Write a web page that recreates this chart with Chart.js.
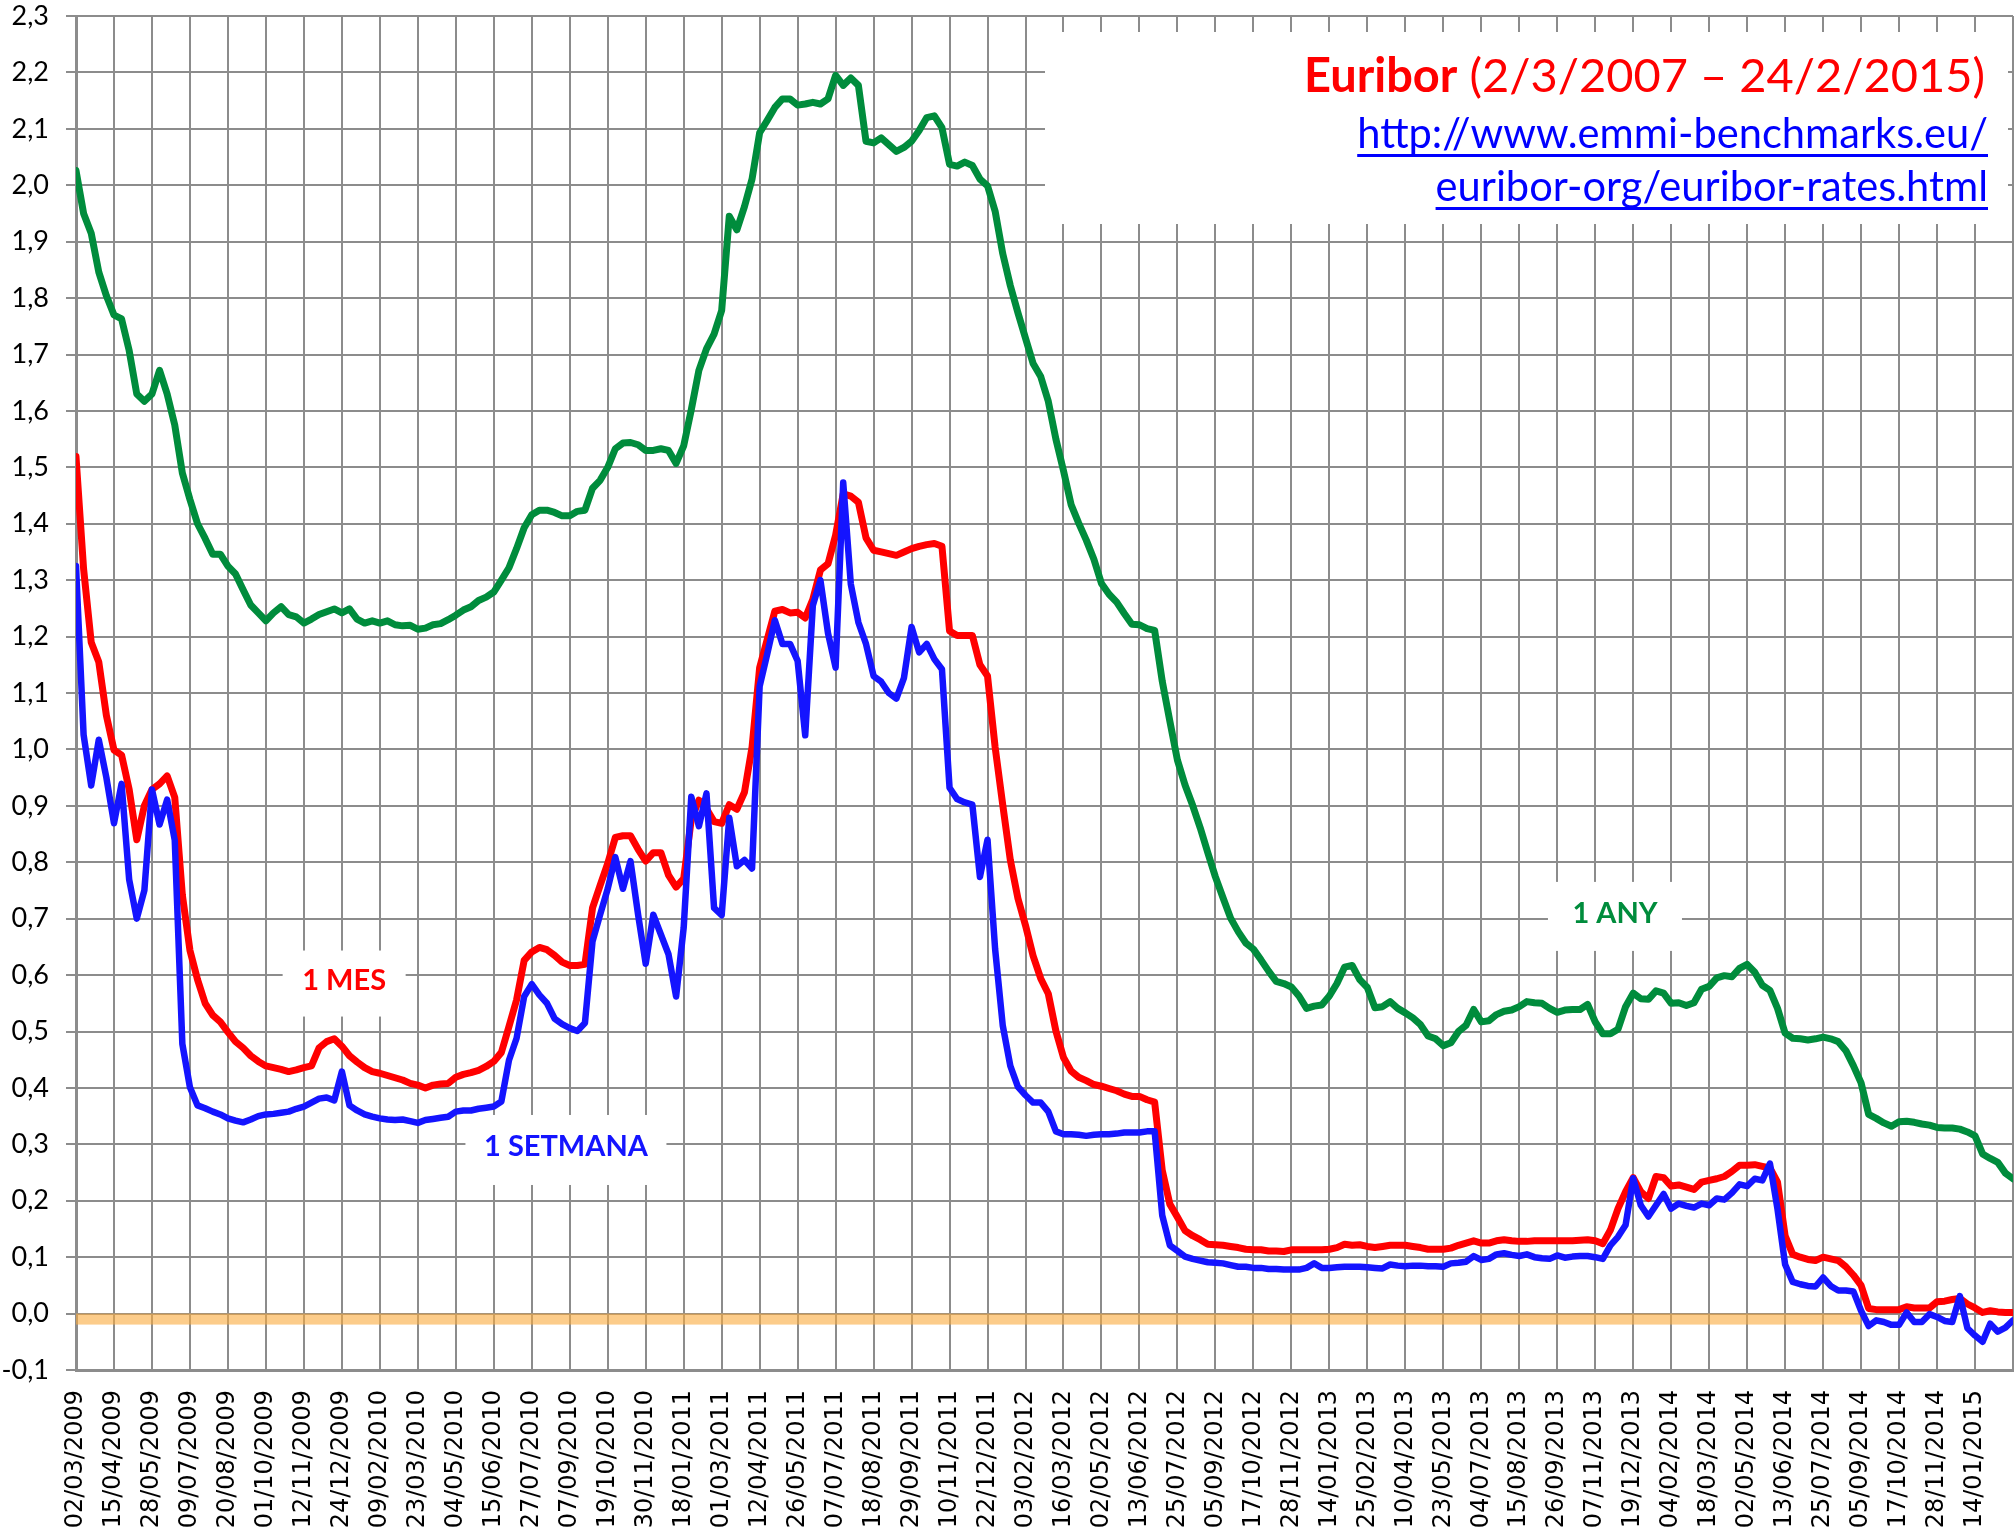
<!DOCTYPE html>
<html>
<head>
<meta charset="utf-8">
<script src="https://cdn.jsdelivr.net/npm/chart.js@4.4.1/dist/chart.umd.min.js"></script>
<style>
  html, body { margin: 0; padding: 0; background: #fff; }
  #euribor { display: block; }
</style>
</head>
<body>
<canvas id="euribor" width="2015" height="1538"></canvas>
<script>
// one sample every 6 business days, 5 samples between two date ticks
const tickLabels = [
  "02/03/2009", "15/04/2009", "28/05/2009", "09/07/2009", "20/08/2009", "01/10/2009",
  "12/11/2009", "24/12/2009", "09/02/2010", "23/03/2010", "04/05/2010", "15/06/2010",
  "27/07/2010", "07/09/2010", "19/10/2010", "30/11/2010", "18/01/2011", "01/03/2011",
  "12/04/2011", "26/05/2011", "07/07/2011", "18/08/2011", "29/09/2011", "10/11/2011",
  "22/12/2011", "03/02/2012", "16/03/2012", "02/05/2012", "13/06/2012", "25/07/2012",
  "05/09/2012", "17/10/2012", "28/11/2012", "14/01/2013", "25/02/2013", "10/04/2013",
  "23/05/2013", "04/07/2013", "15/08/2013", "26/09/2013", "07/11/2013", "19/12/2013",
  "04/02/2014", "18/03/2014", "02/05/2014", "13/06/2014", "25/07/2014", "05/09/2014",
  "17/10/2014", "28/11/2014", "14/01/2015"
];
const samplesPerTick = 5;

// 1 SETMANA
const week1 = [
  1.325, 1.026, 0.936, 1.017, 0.95, 0.869, 0.939, 0.769, 0.70, 0.75, 0.929, 0.867, 0.911, 0.839, 0.478,
  0.401, 0.369, 0.364, 0.358, 0.353, 0.346, 0.342, 0.339, 0.344, 0.35, 0.353, 0.354, 0.356, 0.358, 0.363,
  0.367, 0.374, 0.381, 0.383, 0.378, 0.429, 0.369, 0.36, 0.353, 0.349, 0.346, 0.344, 0.343,
  0.344, 0.341, 0.338, 0.343, 0.345, 0.347, 0.349, 0.358, 0.36, 0.36, 0.363, 0.365, 0.367, 0.376, 0.449,
  0.488, 0.562, 0.584, 0.565, 0.55, 0.523, 0.513, 0.506, 0.501, 0.515, 0.66, 0.707, 0.753, 0.809, 0.753,
  0.802, 0.707, 0.62, 0.707, 0.672, 0.637, 0.562, 0.684, 0.916, 0.864, 0.922, 0.719,
  0.706, 0.879, 0.793, 0.804, 0.789, 1.112, 1.169, 1.229, 1.187, 1.187, 1.157, 1.025, 1.255, 1.30, 1.206,
  1.145, 1.473, 1.293, 1.225, 1.187, 1.13, 1.12, 1.10, 1.09, 1.127, 1.217, 1.172, 1.187, 1.16, 1.142,
  0.932, 0.912, 0.906, 0.902, 0.774, 0.84, 0.646, 0.511, 0.439, 0.402, 0.387, 0.374,
  0.374, 0.358, 0.323, 0.318, 0.318, 0.317, 0.315, 0.317, 0.318, 0.318, 0.319, 0.321, 0.321, 0.321, 0.323,
  0.323, 0.174, 0.121, 0.111, 0.101, 0.097, 0.094, 0.091, 0.09, 0.089, 0.086, 0.083, 0.083, 0.081, 0.081,
  0.079, 0.079, 0.078, 0.078, 0.078, 0.081, 0.089, 0.081, 0.081, 0.082, 0.083, 0.083,
  0.083, 0.082, 0.081, 0.08, 0.087, 0.085, 0.084, 0.085, 0.085, 0.084, 0.084, 0.083, 0.089, 0.09, 0.092,
  0.102, 0.095, 0.097, 0.105, 0.107, 0.104, 0.102, 0.105, 0.1, 0.098, 0.097, 0.103, 0.099, 0.101, 0.102,
  0.102, 0.1, 0.097, 0.121, 0.136, 0.157, 0.24, 0.192, 0.172, 0.192, 0.212, 0.186,
  0.195, 0.191, 0.188, 0.195, 0.192, 0.204, 0.202, 0.214, 0.229, 0.226, 0.239, 0.236, 0.266, 0.185, 0.087,
  0.056, 0.052, 0.049, 0.048, 0.064, 0.049, 0.041, 0.041, 0.039, 0.005, -0.022, -0.012, -0.015, -0.02, -0.02,
  0.002, -0.015, -0.015, -0.001, -0.006, -0.013, -0.015, 0.031, -0.026, -0.039, -0.05, -0.018, -0.032, -0.025, -0.012
];

// 1 MES
const month1 = [
  1.519, 1.32, 1.19, 1.155, 1.06, 0.999, 0.99, 0.929, 0.84, 0.90, 0.929, 0.939, 0.953, 0.915, 0.742,
  0.644, 0.592, 0.55, 0.529, 0.517, 0.499, 0.482, 0.471, 0.457, 0.447, 0.439, 0.436, 0.433, 0.429, 0.432,
  0.436, 0.439, 0.471, 0.482, 0.487, 0.474, 0.457, 0.446, 0.436, 0.429, 0.426, 0.422, 0.418,
  0.414, 0.408, 0.405, 0.40, 0.405, 0.407, 0.408, 0.419, 0.424, 0.427, 0.431, 0.438, 0.447, 0.463, 0.509,
  0.556, 0.626, 0.641, 0.649, 0.645, 0.635, 0.623, 0.617, 0.617, 0.619, 0.719, 0.759, 0.798, 0.844, 0.847,
  0.847, 0.823, 0.802, 0.817, 0.817, 0.777, 0.756, 0.771, 0.876, 0.91, 0.895, 0.872,
  0.869, 0.902, 0.894, 0.924, 1.004, 1.145, 1.195, 1.245, 1.248, 1.242, 1.243, 1.233, 1.266, 1.318, 1.329,
  1.38, 1.453, 1.449, 1.438, 1.375, 1.353, 1.35, 1.347, 1.344, 1.35, 1.356, 1.36, 1.363, 1.365, 1.36,
  1.21, 1.202, 1.202, 1.202, 1.15, 1.13, 1.004, 0.902, 0.804, 0.736, 0.688, 0.634,
  0.594, 0.567, 0.501, 0.454, 0.43, 0.419, 0.413, 0.406, 0.403, 0.399, 0.395, 0.389, 0.385, 0.385, 0.379,
  0.375, 0.254, 0.194, 0.171, 0.147, 0.138, 0.131, 0.123, 0.122, 0.121, 0.119, 0.117, 0.114, 0.113, 0.113,
  0.111, 0.111, 0.11, 0.113, 0.113, 0.113, 0.113, 0.113, 0.114, 0.117, 0.123, 0.121,
  0.122, 0.119, 0.117, 0.119, 0.121, 0.121, 0.121, 0.119, 0.117, 0.114, 0.114, 0.114, 0.116, 0.121, 0.125,
  0.129, 0.125, 0.125, 0.129, 0.131, 0.129, 0.128, 0.128, 0.129, 0.129, 0.129, 0.129, 0.129, 0.129, 0.13,
  0.131, 0.129, 0.124, 0.148, 0.186, 0.216, 0.241, 0.216, 0.204, 0.243, 0.241, 0.226,
  0.228, 0.224, 0.22, 0.233, 0.236, 0.239, 0.243, 0.252, 0.263, 0.263, 0.264, 0.261, 0.258, 0.233, 0.138,
  0.105, 0.10, 0.096, 0.094, 0.10, 0.097, 0.094, 0.083, 0.068, 0.05, 0.009, 0.007, 0.007, 0.007, 0.007,
  0.012, 0.01, 0.01, 0.01, 0.021, 0.022, 0.025, 0.027, 0.017, 0.01, 0.002, 0.005, 0.003, 0.002, 0.002
];

// 1 ANY
const year1 = [
  2.026, 1.95, 1.915, 1.846, 1.804, 1.77, 1.763, 1.707, 1.63, 1.617, 1.63, 1.672, 1.63, 1.575, 1.49,
  1.443, 1.40, 1.374, 1.346, 1.346, 1.325, 1.311, 1.283, 1.256, 1.242, 1.228, 1.242, 1.253, 1.239, 1.235,
  1.224, 1.231, 1.239, 1.244, 1.249, 1.242, 1.249, 1.231, 1.224, 1.228, 1.224, 1.228, 1.221,
  1.219, 1.22, 1.213, 1.215, 1.221, 1.223, 1.23, 1.238, 1.247, 1.253, 1.264, 1.27, 1.279, 1.30, 1.322,
  1.356, 1.393, 1.416, 1.424, 1.424, 1.42, 1.414, 1.414, 1.422, 1.424, 1.463, 1.477, 1.50, 1.533, 1.543,
  1.544, 1.54, 1.53, 1.53, 1.533, 1.53, 1.507, 1.538, 1.602, 1.672, 1.71, 1.736,
  1.778, 1.945, 1.921, 1.962, 2.011, 2.093, 2.115, 2.138, 2.153, 2.153, 2.142, 2.144, 2.147, 2.144, 2.153,
  2.195, 2.177, 2.19, 2.177, 2.078, 2.075, 2.084, 2.072, 2.06, 2.067, 2.078, 2.097, 2.12, 2.123, 2.102,
  2.037, 2.034, 2.041, 2.035, 2.011, 1.999, 1.954, 1.879, 1.822, 1.774, 1.729, 1.684,
  1.661, 1.617, 1.55, 1.494, 1.434, 1.401, 1.371, 1.337, 1.294, 1.275, 1.261, 1.241, 1.222, 1.221, 1.214,
  1.211, 1.121, 1.05, 0.981, 0.937, 0.901, 0.861, 0.817, 0.774, 0.737, 0.701, 0.677, 0.657, 0.646, 0.627,
  0.607, 0.589, 0.585, 0.579, 0.563, 0.541, 0.545, 0.547, 0.563, 0.585, 0.614, 0.617,
  0.592, 0.578, 0.542, 0.544, 0.553, 0.541, 0.533, 0.524, 0.512, 0.492, 0.487, 0.475, 0.48, 0.50, 0.511,
  0.539, 0.517, 0.519, 0.53, 0.536, 0.538, 0.544, 0.553, 0.551, 0.55, 0.541, 0.534, 0.538, 0.539, 0.539,
  0.548, 0.517, 0.496, 0.496, 0.504, 0.544, 0.568, 0.558, 0.557, 0.572, 0.568, 0.55,
  0.551, 0.546, 0.551, 0.575, 0.58, 0.595, 0.599, 0.597, 0.612, 0.619, 0.605, 0.582, 0.573, 0.541, 0.497,
  0.488, 0.487, 0.485, 0.487, 0.49, 0.487, 0.482, 0.466, 0.439, 0.409, 0.353, 0.346, 0.338, 0.332, 0.34,
  0.341, 0.339, 0.336, 0.334, 0.33, 0.329, 0.329, 0.327, 0.322, 0.315, 0.283, 0.275, 0.268, 0.249, 0.239
];

const toPoints = (arr) => arr.map((v, i) => ({ x: i, y: v }));

// callouts, placed on the value scales
const notes = [
  { text: "1 MES", color: "#ff0000", at: 35.3, level: 0.585, w: 123, h: 66 },
  { text: "1 SETMANA", color: "#1414ff", at: 64.5, level: 0.29, w: 201, h: 70 },
  { text: "1 ANY", color: "#008c3c", at: 202.6, level: 0.704, w: 134, h: 69 },
];
const zeroBandEnd = 235; // orange band under 0 stops at 05/09/2014

const decor = {
  id: "decor",
  beforeDatasetsDraw(chart) {
    const { ctx, scales: { x, y } } = chart;
    ctx.save();
    // orange band just under zero
    ctx.fillStyle = "rgba(250,170,60,0.6)";
    const y0 = y.getPixelForValue(0);
    ctx.fillRect(x.getPixelForValue(0), y0, x.getPixelForValue(zeroBandEnd) - x.getPixelForValue(0), 11);

    // white panel behind the title
    ctx.fillStyle = "#fff";
    ctx.fillRect(1045, 32, 963, 192);

    // callout boxes
    notes.forEach((n) => {
      const cx = x.getPixelForValue(n.at);
      const cy = y.getPixelForValue(n.level);
      ctx.fillStyle = "#fff";
      ctx.fillRect(cx - n.w / 2, cy - n.h / 2, n.w, n.h);
      ctx.fillStyle = n.color;
      ctx.font = "bold 29px Lato";
      ctx.textAlign = "center";
      ctx.textBaseline = "middle";
      ctx.fillText(n.text, cx, cy - 3);
    });

    // title
    const bold = "Euribor";
    const rest = " (2/3/2007 \u2013 24/2/2015)";
    ctx.font = "bold 100px Lato";
    const wb = ctx.measureText(bold).width;
    ctx.font = "100px Lato";
    const wr = ctx.measureText(rest).width;
    const size = (100 * 681) / (wb + wr);
    ctx.textBaseline = "alphabetic";
    ctx.textAlign = "right";
    ctx.fillStyle = "#ff0000";
    ctx.font = size + "px Lato";
    ctx.fillText(rest, 1985, 92);
    ctx.font = "bold " + size + "px Lato";
    ctx.fillText(bold, 1985 - (wr * size) / 100, 92);

    // source links
    const link1 = "http://www.emmi-benchmarks.eu/";
    const link2 = "euribor-org/euribor-rates.html";
    ctx.font = "100px Lato";
    const ls = (100 * 631) / ctx.measureText(link1).width;
    ctx.font = ls + "px Lato";
    ctx.fillStyle = "#0000ff";
    [[link1, 148], [link2, 201]].forEach(([t, base]) => {
      const w = ctx.measureText(t).width;
      ctx.fillText(t, 1988, base);
      ctx.fillRect(1988 - w, base + 6, w, 3);
    });
    ctx.restore();
  },
};

const gridGray = "#8c8c8c";

new Chart(document.getElementById("euribor"), {
  type: "line",
  data: {
    datasets: [
      { label: "1 SETMANA", data: toPoints(week1), borderColor: "#1414ff", borderWidth: 6.5 },
      { label: "1 MES", data: toPoints(month1), borderColor: "#ff0000", borderWidth: 7 },
      { label: "1 ANY", data: toPoints(year1), borderColor: "#008c3c", borderWidth: 7 },
    ],
  },
  options: {
    responsive: false,
    animation: false,
    devicePixelRatio: 1,
    layout: { padding: { top: 16, right: 2, left: 0, bottom: 0 } },
    elements: {
      point: { radius: 0 },
      line: { tension: 0, fill: false, borderJoinStyle: "round", borderCapStyle: "round" },
    },
    plugins: { legend: { display: false }, tooltip: { enabled: false } },
    scales: {
      x: {
        type: "linear",
        min: 0,
        max: tickLabels.length * samplesPerTick,
        afterFit: (s) => {
          s.height = 168;
          s.paddingLeft = 0;
          s.paddingRight = 0;
        },
        grid: { color: gridGray, lineWidth: 2, drawTicks: false },
        border: { color: gridGray, width: 3 },
        ticks: {
          stepSize: samplesPerTick,
          autoSkip: false,
          maxRotation: 90,
          minRotation: 90,
          padding: 20,
          color: "#000",
          font: { family: "DejaVu Sans", size: 24 },
          callback: (v) => tickLabels[v / samplesPerTick] ?? "",
        },
      },
      y: {
        min: -0.1,
        max: 2.3,
        afterFit: (s) => {
          s.width = 76;
          s.paddingTop = 0;
          s.paddingBottom = 0;
        },
        grid: { color: gridGray, lineWidth: 2, tickLength: 10 },
        border: { color: gridGray, width: 3 },
        ticks: {
          stepSize: 0.1,
          padding: 17,
          color: "#000",
          font: { family: "Lato", size: 27 },
          callback: (v) => (Math.round(v * 10) / 10).toFixed(1).replace(".", ","),
        },
      },
    },
  },
  plugins: [decor],
});
</script>
</body>
</html>
